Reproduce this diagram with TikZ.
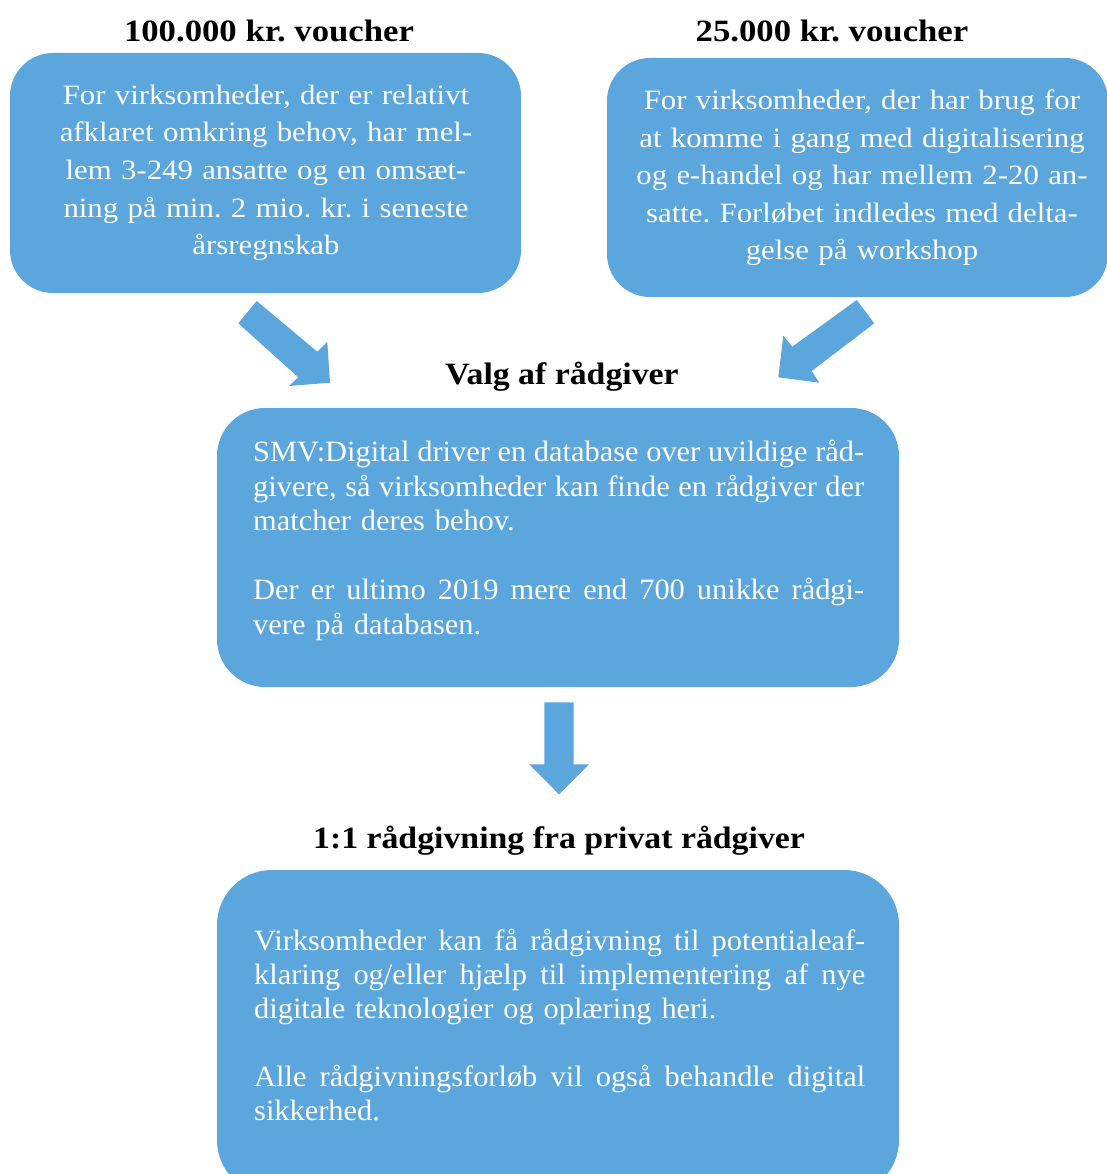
\documentclass[tikz,border=0pt]{standalone}
\usepackage{fontspec}
\setmainfont{Liberation Serif}
\newfontfamily\wideserif[FakeStretch=1.1]{Liberation Serif}
\newfontfamily\titleserif[FakeStretch=1.12]{Liberation Serif}
\newfontfamily\midserif[FakeStretch=1.09]{Liberation Serif}
\newfontfamily\bodyserif[FakeStretch=1.03]{Liberation Serif}
\definecolor{boxblue}{RGB}{91,166,221}
\newcommand{\jline}[1]{\leavevmode\hbox to 611pt{\spaceskip=0.25em plus 4em minus 0.05em\relax #1}}
\frenchspacing
\begin{document}
\begin{tikzpicture}[x=1pt,y=-1pt,
  bluebox/.style={fill=boxblue, draw=none, inner sep=0pt},
  titletext/.style={anchor=base, inner sep=0pt, text=black},
  bodytext/.style={inner sep=0pt, text=white},
  blockarrow/.style={fill=boxblue, draw=none}]
\useasboundingbox (0,0) rectangle (1107,1174);
\clip (0,0) rectangle (1107,1174);

% boxes
\node[bluebox, minimum width=511pt, minimum height=240pt, rounded corners=43pt] (b1) at (265.5,173) {};
\node[bluebox, minimum width=501pt, minimum height=239pt, rounded corners=43pt] (b2) at (857.5,177.5) {};
\node[bluebox, minimum width=682pt, minimum height=279pt, rounded corners=48pt] (b3) at (558,547.5) {};
\node[bluebox, minimum width=682pt, minimum height=325pt, rounded corners=55pt] (b4) at (558,1032.5) {};

% titles
\node[titletext, font=\titleserif\bfseries\fontsize{31}{37}\selectfont] (t1) at (269,41.7) {100.000 kr. voucher};
\node[titletext, font=\titleserif\bfseries\fontsize{31}{37}\selectfont] (t2) at (832,42) {25.000 kr. voucher};
\node[titletext, font=\midserif\bfseries\fontsize{31}{37}\selectfont] (t3) at (562,384.3) {Valg af rådgiver};
\node[titletext, font=\midserif\bfseries\fontsize{31}{37}\selectfont] (t4) at (559,848) {1:1 rådgivning fra privat rådgiver};

% body texts
\node[bodytext, anchor=base, text width=480pt, align=center, font=\wideserif\fontsize{28}{37.6}\selectfont] (x1) at (266,104.3)
 {For virksomheder, der er relativt\\afklaret omkring behov, har mel-\\lem 3-249 ansatte og en omsæt-\\ning på min. 2 mio. kr. i seneste\\årsregnskab};
\node[bodytext, anchor=base, text width=480pt, align=center, font=\wideserif\fontsize{28}{37.5}\selectfont] (x2) at (862,110)
 {For virksomheder, der har brug for\\at komme i gang med digitalisering\\og e-handel og har mellem 2-20 an-\\satte. Forløbet indledes med delta-\\gelse på workshop};
\node[bodytext, anchor=base west, text width=611pt, align=left, font=\bodyserif\fontsize{29.5}{34.5}\selectfont] (x3) at (253,461.7)
 {\jline{SMV:Digital driver en database over uvildige råd-}\\
  \jline{givere, så virksomheder kan finde en rådgiver der}\\
  matcher deres behov.\\[34.5pt]
  \jline{Der er ultimo 2019 mere end 700 unikke rådgi-}\\
  vere på databasen.};
\node[bodytext, anchor=base west, text width=611pt, align=left, font=\bodyserif\fontsize{29.5}{34}\selectfont] (x4) at (254,950.7)
 {\jline{Virksomheder kan få rådgivning til potentialeaf-}\\
  \jline{klaring og/eller hjælp til implementering af nye}\\
  digitale teknologier og oplæring heri.\\[34pt]
  \jline{Alle rådgivningsforløb vil også behandle digital}\\
  sikkerhed.};

% block arrows
\coordinate (a1) at (238.3,323.3);
\coordinate (a2) at (330,382.7);
\fill[blockarrow] (a1) -- (256.7,301) -- (317.3,351.7) -- (327.3,341.7) -- (a2) -- (289,386) -- (298.3,377.3) -- cycle;
\coordinate (c1) at (856.7,300);
\coordinate (c2) at (778.3,377.3);
\fill[blockarrow] (c1) -- (874.3,323.3) -- (811.7,371) -- (819.3,382.7) -- (c2) -- (783.3,335.7) -- (792.3,346.7) -- cycle;
\coordinate (d1) at (544.3,702.3);
\coordinate (d2) at (559,794.3);
\fill[blockarrow] (d1) -- (573.7,702.3) -- (573.7,764.3) -- (589,764.3) -- (d2) -- (529.3,764.3) -- (544.3,764.3) -- cycle;
\end{tikzpicture}
\end{document}
